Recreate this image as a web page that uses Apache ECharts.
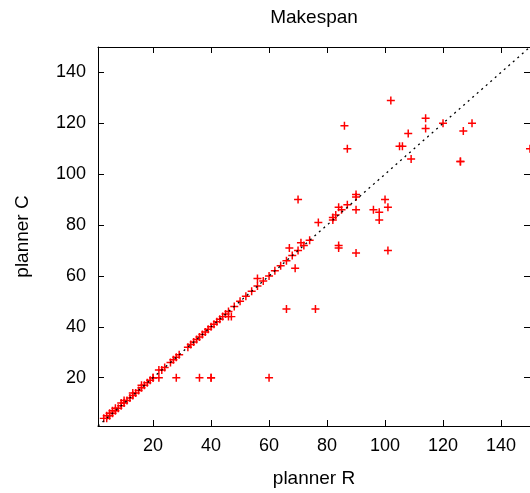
<!DOCTYPE html>
<html><head><meta charset="utf-8">
<script src="https://cdn.jsdelivr.net/npm/echarts@6/dist/echarts.min.js"></script>
<style>html,body{margin:0;padding:0;background:#fff}#c{width:530px;height:493px}</style>
</head><body><div id="c"></div>
<script>
// planner R (x) and planner C (y) makespans
const plannerR = [3,4,4,5,5,6,6,7,7,8,9,9,10,10,11,12,13,13,14,15,16,16,17,18,19,20,20,
  22,23,24,26,27,28,29,32,33,34,35,36,37,38,39,40,41,42,43,44,45,46,48,50,52,54,56,58,60,62,64,66,68,70,72,74,
  47,46,56,67,69,71,66,76,77,70,84,84,90,101,82,82,83,84,85,87,90,90,90,96,98,98,100,101,
  102,86,87,108,105,106,114,114,120,130,127,109,126,126,150,
  22,28,36,40,40,60];
const plannerC = [4,4,5,5,6,6,7,7,8,8,9,10,10,11,11,12,13,14,14,15,16,17,17,18,19,20,20,
  23,23,24,26,27,28,29,32,33,34,35,36,37,38,39,40,41,42,43,44,45,46,48,50,52,54,56,58,60,62,64,66,68,70,72,74,
  44,44,59,71,63,73,47,47,81,90,72,71,69,70,83,82,84,87,86,88,92,91,86,86,85,82,90,87,
  129,119,110,116,111,111,122,118,120,120,117,106,105,105,110,
  20,20,20,20,20,20];
const tickValues = [20,40,60,80,100,120,140];
const diagonal = [[1,1],[150,150]];
const axisMin = 1, axisMax = 150;

const points = plannerR.map((x,i)=>[x, plannerC[i]]);
const font = 'Liberation Sans, Arial, Helvetica, sans-serif';
const lineCol = '#000';

function mkAxis(pos, name, showLabels, extra){
  return Object.assign({
    type:'value', position:pos, min:axisMin, max:axisMax,
    name:name, nameLocation:'middle',
    nameTextStyle:{fontFamily:font, fontSize:19, color:'#000'},
    axisLine:{show:true, onZero:false, lineStyle:{color:lineCol, width:1}},
    axisTick:{show:true, inside:true, length:6, customValues:tickValues, lineStyle:{color:lineCol, width:1}},
    axisLabel:{show:showLabels, customValues:tickValues, fontFamily:font, fontSize:18, color:'#000', margin:11},
    splitLine:{show:false}
  }, extra||{});
}

const chart = echarts.init(document.getElementById('c'), null, {renderer:'canvas'});
chart.setOption({
  animation:false,
  backgroundColor:'#fff',
  grid:{left:98, top:47, width:434, height:385, containLabel:false},
  xAxis:[
    mkAxis('bottom','planner R',true,{nameGap:43}),
    mkAxis('top','Makespan',false,{nameGap:20})
  ],
  yAxis:[
    mkAxis('left','planner C',true,{nameGap:66, axisLabel:{show:true, customValues:tickValues, fontFamily:font, fontSize:18, color:'#000', margin:12}}),
    mkAxis('right','',false)
  ],
  series:[
    {type:'scatter', xAxisIndex:0, yAxisIndex:0, data:points,
     symbol:'path://M-0.65,-3.5H0.65V-0.65H3.5V0.65H0.65V3.5H-0.65V0.65H-3.5V-0.65H-0.65Z',
     symbolSize:8, itemStyle:{color:'#ff0000', opacity:1}},
    {type:'line', xAxisIndex:0, yAxisIndex:0, data:diagonal, symbol:'none', z:5,
     lineStyle:{color:'#000', width:1.3, type:[2,4]}}
  ]
});
</script></body></html>
